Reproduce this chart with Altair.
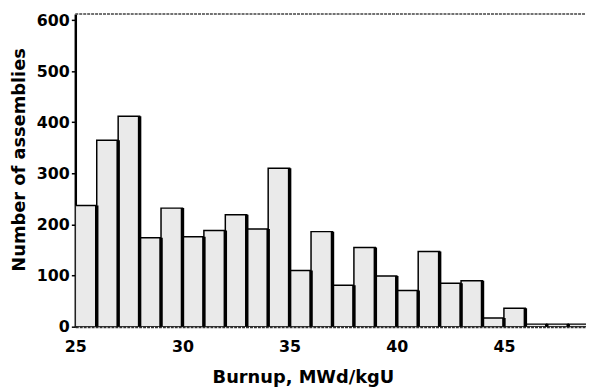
import altair as alt
import pandas as pd

# Histogram bins (Burnup, MWd/kgU) and counts (number of assemblies)
bin_start = [25, 26, 27, 28, 29, 30, 31, 32, 33, 34, 35, 36, 37, 38, 39, 40, 41, 42, 43, 44, 45, 46, 47, 48]
bin_end = [26, 27, 28, 29, 30, 31, 32, 33, 34, 35, 36, 37, 38, 39, 40, 41, 42, 43, 44, 45, 46, 47, 48, 49]
counts = [237, 365, 412, 174, 232, 176, 188, 219, 191, 310, 110, 186, 81, 155, 99, 71, 147, 85, 90, 17, 36, 5, 5, 5]

x_ticks = [25, 30, 35, 40, 45]
y_ticks = [0, 100, 200, 300, 400, 500, 600]

df = pd.DataFrame({"start": bin_start, "end": bin_end, "count": counts})

FONT = "DejaVu Sans"
xscale = alt.Scale(domain=[25, 48.83], nice=False, zero=False)
yscale = alt.Scale(domain=[0, 612], nice=False)

base = alt.Chart(df)

bars = base.mark_rect(fill="#eaeaea", stroke="black", strokeWidth=1.5, clip=True).encode(
    x=alt.X("start:Q", scale=xscale, axis=alt.Axis(
        values=x_ticks, title="Burnup, MWd/kgU", grid=False, ticks=False,
        labelFlush=False, labelPadding=12, domainColor="#333333", domainWidth=2,
        domainDash=[3, 1], titleX=230, titleY=56, titleAlign="center",
        titleBaseline="alphabetic")),
    x2="end:Q",
    y=alt.Y("count:Q", scale=yscale, axis=alt.Axis(
        values=y_ticks, title="Number of assemblies", grid=False, tickSize=4,
        tickWidth=1.5, tickColor="black", labelPadding=2, domainColor="black",
        domainWidth=2.5, titleX=-56, titleY=147, titleAngle=270,
        titleAlign="center", titleBaseline="middle")),
    y2=alt.datum(0),
)

edges = base.mark_rule(color="black", strokeWidth=3.5, clip=True).encode(
    x=alt.X("end:Q", scale=xscale),
    y=alt.Y("count:Q", scale=yscale),
    y2=alt.datum(0),
)

top = alt.Chart(pd.DataFrame({"k": [0]})).mark_rule(color="#444444", strokeWidth=1.5, strokeDash=[3, 1]).encode(
    x=alt.value(0), x2=alt.value(516), y=alt.value(0)
)

chart = alt.layer(bars, edges, top).properties(
    width=516, height=316,
    background="white",
    autosize=alt.AutoSizeParams(type="none"),
    padding={"left": 68, "top": 4, "right": 0, "bottom": 63},
).configure_view(stroke=None).configure_axis(
    labelFont=FONT, labelFontWeight="bold", labelFontSize=16, labelColor="black",
    titleFont=FONT, titleFontWeight="bold", titleFontSize=18, titleColor="black",
)

chart.save("out.html", embed_options={"renderer": "svg", "actions": False})
